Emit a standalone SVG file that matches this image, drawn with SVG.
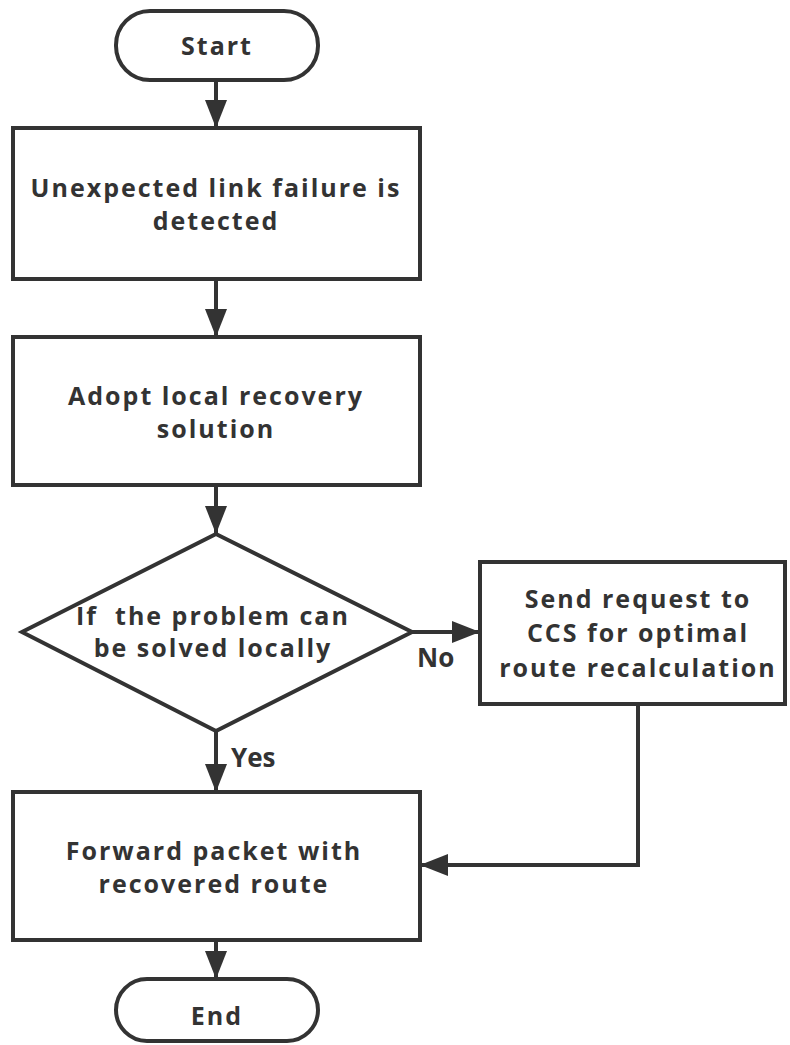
<svg xmlns="http://www.w3.org/2000/svg" width="790" height="1045" viewBox="0 0 790 1045">
  <defs>
    <style>
      .shape { fill: #ffffff; stroke: #333333; stroke-width: 4; }
      .edge { fill: none; stroke: #333333; stroke-width: 4; }
      .label { font-family: "Open Sans", "Noto Sans", "DejaVu Sans", sans-serif; font-weight: bold; font-size: 25px; fill: #333333; text-anchor: middle; letter-spacing: 2px; white-space: pre; }
      .tag { font-family: "Open Sans", "Noto Sans", "DejaVu Sans", sans-serif; font-weight: bold; font-size: 26px; fill: #333333; }
    </style>
    <marker id="arrow" markerUnits="userSpaceOnUse" markerWidth="28" markerHeight="22" refX="28" refY="11" orient="auto">
      <path d="M0,0 L28,11 L0,22 Z" fill="#333333"/>
    </marker>
  </defs>
  <rect width="790" height="1045" fill="#ffffff"/>

  <g id="connectors">
    <line class="edge" x1="216" y1="80" x2="216" y2="128" marker-end="url(#arrow)"/>
    <line class="edge" x1="216" y1="279" x2="216" y2="337" marker-end="url(#arrow)"/>
    <line class="edge" x1="216" y1="485" x2="216" y2="534" marker-end="url(#arrow)"/>
    <line class="edge" x1="412" y1="632" x2="480" y2="632" marker-end="url(#arrow)"/>
    <line class="edge" x1="216" y1="731" x2="216" y2="792" marker-end="url(#arrow)"/>
    <polyline class="edge" points="638,704 638,865 420,865" marker-end="url(#arrow)"/>
    <line class="edge" x1="216" y1="940" x2="216" y2="979" marker-end="url(#arrow)"/>
    <text class="tag" x="417" y="667">No</text>
    <text class="tag" x="231" y="767">Yes</text>
  </g>

  <g id="start">
    <rect class="shape" x="116" y="11" width="202" height="69" rx="34" ry="34"/>
    <text class="label" x="217" y="55">Start</text>
  </g>

  <g id="detect">
    <rect class="shape" x="13" y="128" width="407" height="151"/>
    <text class="label" x="216" y="197">Unexpected link failure is</text>
    <text class="label" x="216" y="230">detected</text>
  </g>

  <g id="local-recovery">
    <rect class="shape" x="13" y="337" width="407" height="148"/>
    <text class="label" x="216" y="405">Adopt local recovery</text>
    <text class="label" x="216" y="438">solution</text>
  </g>

  <g id="decision">
    <polygon class="shape" points="216,534 412,632 216,731 22,632"/>
    <text class="label" x="213" y="625">If  the problem can</text>
    <text class="label" x="213" y="657">be solved locally</text>
  </g>

  <g id="request-ccs">
    <rect class="shape" x="480" y="562" width="305" height="142"/>
    <text class="label" x="638" y="608">Send request to</text>
    <text class="label" x="638" y="642">CCS for optimal</text>
    <text class="label" x="638" y="677">route recalculation</text>
  </g>

  <g id="forward">
    <rect class="shape" x="13" y="792" width="407" height="148"/>
    <text class="label" x="214" y="860">Forward packet with</text>
    <text class="label" x="214" y="893">recovered route</text>
  </g>

  <g id="end">
    <rect class="shape" x="116" y="979" width="202" height="62" rx="31" ry="31"/>
    <text class="label" x="217" y="1025">End</text>
  </g>
</svg>
